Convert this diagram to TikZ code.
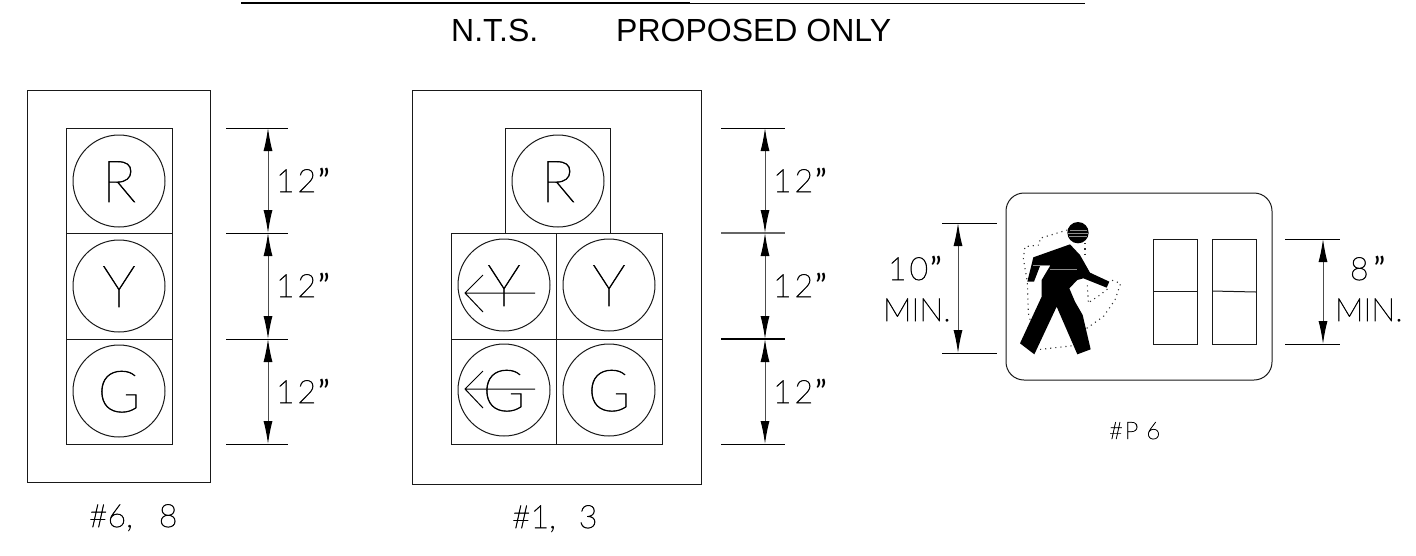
\documentclass[tikz,border=0pt]{standalone}
\usepackage{fontspec}
\setmainfont{Liberation Sans}
\newfontfamily\cad{Lato}[UprightFont=* Hairline,UprightFeatures={FakeBold=2}]
\newfontfamily\cadl{Lato}[UprightFont=* Hairline,UprightFeatures={FakeBold=1}]
\newfontfamily\cadq{Lato}
\newcommand{\qq}{{\cadq ”}}
\usetikzlibrary{arrows.meta}
\tikzset{
  cadline/.style={line width=1pt,draw=black!90},
  tickline/.style={line width=1pt,draw=black},
  dimline/.style={line width=1pt,draw=black!70,{Latex[length=23pt,width=9pt,black]}-{Latex[length=23pt,width=9pt,black]}},
  lamp/.style={line width=1pt,draw=black!90},
  dimtext/.style={font=\cad\fontsize{32pt}{32pt}\selectfont,anchor=base west,inner sep=0pt,outer sep=0pt,text=black},
  smalltext/.style={font=\cad\fontsize{24pt}{24pt}\selectfont,anchor=base west,inner sep=0pt,outer sep=0pt,text=black},
  lamptext/.style={font=\cadl\fontsize{58pt}{58pt}\selectfont,inner sep=0pt,text=black},
  titletext/.style={anchor=base west,inner sep=0pt,font=\fontsize{32pt}{32pt}\selectfont},
  walk/.style={line width=1.1pt,draw=black!80,dash pattern=on 1.1pt off 4pt}
}
\begin{document}
\begin{tikzpicture}[x=1pt,y=-1pt]
\useasboundingbox (0,0) rectangle (1416,555);
% title
\coordinate (t1) at (241,3); \coordinate (tm) at (690,3); \coordinate (t2) at (1085,3);
\draw[line width=1.3pt] (t1) -- (tm);
\draw[line width=0.9pt] (tm) -- (t2);
\node[titletext] (nts) at (451,41.5) {N.T.S.};
\node[titletext] (prop) at (616,41.5) {PROPOSED ONLY};
% left signal
\draw[cadline] (27,90) rectangle (210,482);
\draw[cadline] (66,128) rectangle (172,444);
\draw[cadline] (66,233) -- (172,233);
\draw[cadline] (66,339) -- (172,339);
\foreach \n/\cy/\l in {lr/181/R,ly/286/Y,lg/391/G}{
  \draw[lamp] (119,\cy) circle (46);
  \node[lamptext,anchor=base] (\n) at (119,\cy+21) {\l};
}
% left dims
\foreach \n/\y in {a1/128,a2/233,a3/339,a4/444}{
  \coordinate (\n l) at (226,\y); \coordinate (\n r) at (288,\y); \coordinate (\n m) at (268,\y);
  \draw[tickline] (\n l) -- (\n r);
}
\draw[dimline] (a1m) -- (a2m);
\draw[dimline] (a2m) -- (a3m);
\draw[dimline] (a3m) -- (a4m);
\node[dimtext] (d1) at (276,192) {1\hspace{3pt}2\hspace{2pt}\qq};
\node[dimtext] (d2) at (276,297) {1\hspace{3pt}2\hspace{2pt}\qq};
\node[dimtext] (d3) at (276,403) {1\hspace{3pt}2\hspace{2pt}\qq};
\node[dimtext] (c1) at (89,527) {\#6,\hspace{26pt}8};
% middle signal
\draw[cadline] (412,90) rectangle (701,484);
\draw[cadline] (505,128) rectangle (610,233);
\draw[cadline] (451,233) rectangle (662,444);
\draw[cadline] (451,339) -- (662,339);
\draw[cadline] (556,233) -- (556,444);
\foreach \n/\cx/\cy/\l in {mr/558/181/R,my/609/285/Y,mg/609/390/G,ay/504/285/Y,ag/504/390/G}{
  \draw[lamp] (\cx,\cy) circle (46);
  \node[lamptext,anchor=base] (\n) at (\cx,\cy+21) {\l};
}
\draw[tickline] (535,293) -- (465,293) (483,275) -- (465,293) -- (483,312);
\draw[tickline] (535,389) -- (465,389) (483,371) -- (465,389) -- (483,408);
% middle dims
\foreach \n/\y/\w/\c in {b1/128/1pt/black,b2/233/1.5pt/black!60,b3/339/2pt/black,b4/444/1pt/black}{
  \coordinate (\n l) at (721,\y); \coordinate (\n r) at (785,\y); \coordinate (\n m) at (765,\y);
  \draw[tickline,line width=\w,draw=\c] (\n l) -- (\n r);
}
\draw[dimline] (b1m) -- (b2m);
\draw[dimline] (b2m) -- (b3m);
\draw[dimline] (b3m) -- (b4m);
\node[dimtext] (e1) at (773,192) {1\hspace{3pt}2\hspace{2pt}\qq};
\node[dimtext] (e2) at (773,297) {1\hspace{3pt}2\hspace{2pt}\qq};
\node[dimtext] (e3) at (773,403) {1\hspace{3pt}2\hspace{2pt}\qq};
\node[dimtext] (c2) at (512,528) {\#1,\hspace{23pt}3};
% ped signal
\draw[cadline,rounded corners=18pt] (1006,193) rectangle (1272,380);
\draw[cadline] (1153,239) rectangle (1197,344);
\draw[cadline] (1153,291) -- (1197,291);
\draw[cadline] (1212,239) rectangle (1256,344);
\draw[cadline] (1212,291) -- (1256,292);
% pedestrian
\begin{scope}[shift={(990,180)},x=0.3333pt,y=-0.3333pt]
\draw[walk] (232,150) -- (150,175) -- (148,195) -- (105,200) -- (100,235) -- (112,305) -- (115,400) -- (122,425);
\draw[walk] (135,510) -- (250,497);
\draw[walk] (290,445) -- (340,410) -- (375,360) -- (392,310) -- (358,298);
\draw[walk] (300,365) -- (330,345) -- (355,325);
\draw[walk] (295,365) -- (292,315);
\draw[walk] (285,190) -- (285,235);
\fill[black] (264,158) circle (32);
\fill[black] (130,232) -- (240,193) -- (270,225) -- (300,278) -- (358,305) -- (350,323) -- (280,295) -- (262,300) -- (238,325) -- (255,365) -- (278,405) -- (302,508) -- (262,523) -- (200,380) -- (133,523) -- (90,490) -- (155,350) -- (155,300) -- (180,258) -- (150,258) -- (132,305) -- (112,305) -- cycle;
\draw[black!45,line width=0.4pt] (240,150) -- (290,150) (235,160) -- (293,160) (238,170) -- (290,170) (130,255) -- (180,255) (180,268) -- (260,268);
\end{scope}
% ped dims
\coordinate (p1l) at (942,223); \coordinate (p1r) at (997,223); \coordinate (p1m) at (958,223);
\coordinate (p2l) at (942,353); \coordinate (p2r) at (997,353); \coordinate (p2m) at (958,353);
\draw[tickline] (p1l) -- (p1r); \draw[tickline] (p2l) -- (p2r);
\draw[dimline] (p1m) -- (p2m);
\coordinate (q1l) at (1285,239); \coordinate (q1r) at (1340,239); \coordinate (q1m) at (1323,239);
\coordinate (q2l) at (1285,344); \coordinate (q2r) at (1340,344); \coordinate (q2m) at (1323,344);
\draw[tickline] (q1l) -- (q1r); \draw[tickline] (q2l) -- (q2r);
\draw[dimline] (q1m) -- (q2m);
\node[dimtext] (f1) at (888,280) {1\hspace{3pt}0\hspace{2pt}\qq};
\node[dimtext] (f2) at (883,321) {MIN.};
\node[dimtext] (g1) at (1350,280) {8\hspace{5pt}\qq};
\node[dimtext] (g2) at (1335,321) {MIN.};
\node[smalltext] (c3) at (1109,439) {\#\hspace{2pt}P\hspace{8pt}6};
\end{tikzpicture}
\end{document}
